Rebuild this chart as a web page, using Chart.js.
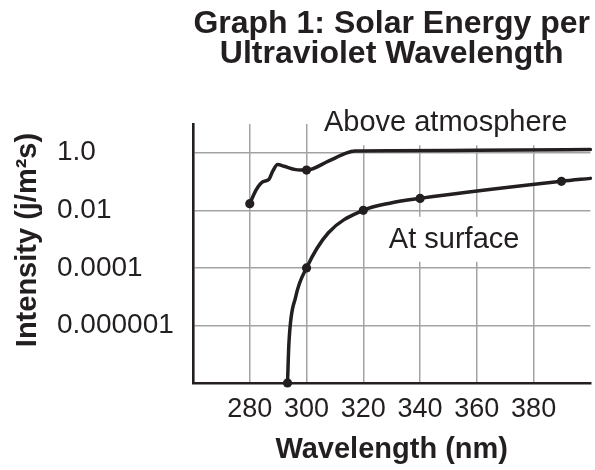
<!DOCTYPE html>
<html>
<head>
<meta charset="utf-8">
<script src="https://cdn.jsdelivr.net/npm/chart.js@4/dist/chart.umd.min.js"></script>
<style>
  html, body { margin: 0; padding: 0; background: #fff; }
  canvas { display: block; }
</style>
</head>
<body>
<canvas id="chart" width="595" height="470"></canvas>
<script>
// wavelength (nm) and intensity readings
const aboveX = [280, 282.3, 284.6, 286.7, 288.1, 289.8, 292.1, 296.2, 300, 307.7, 313.5, 317, 330, 360, 400];
const aboveY = [0.017, 0.052, 0.098, 0.117, 0.23, 0.39, 0.34, 0.26, 0.25, 0.51, 0.93, 1.15, 1.17, 1.22, 1.3];
const aboveDots = [280, 300];

const surfaceX = [293.3, 293.8, 296.2, 300, 307.7, 320, 329.7, 340, 389.8, 400];
const surfaceY = [1e-8, 2.5e-7, 1.0e-5, 1e-4, 1.66e-3, 0.01, 0.018, 0.026, 0.102, 0.129];
const surfaceDots = [293.3, 300, 320, 340, 389.8];

const xTicks = [280, 300, 320, 340, 360, 380];
const yTicks = [1e-6, 1e-4, 1e-2, 1];
const yTickLabels = ['0.000001', '0.0001', '0.01', '1.0'];

const titleLines = ['Graph 1: Solar Energy per', 'Ultraviolet Wavelength'];
const xTitle = 'Wavelength (nm)';
const yTitle = 'Intensity (j/m\u00B2s)';

const noteTexts = ['Above atmosphere', 'At surface'];
const noteX = [349, 352];
const noteY = [5.6, 5e-4];

const INK = '#231f20';
const FONT = '"Liberation Sans", Arial, Helvetica, sans-serif';

const toPoints = (xs, ys) => xs.map((x, i) => ({ x: x, y: ys[i] }));
const dotSizes = (xs, dots) => xs.map((x) => (dots.includes(x) ? 4.6 : 0));

const lineStyle = {
    borderColor: INK,
    backgroundColor: INK,
    pointBackgroundColor: INK,
    pointBorderColor: INK,
    borderWidth: 3.5,
    borderCapStyle: 'round',
    cubicInterpolationMode: 'monotone',
    pointBorderWidth: 0,
    pointHoverRadius: 0,
    clip: 6,
};

const textPlugin = {
    id: 'texts',
    beforeDatasetsDraw(chart) {
        const { ctx, scales: { x, y } } = chart;
        ctx.save();
        ctx.font = '29px ' + FONT;
        noteTexts.forEach((t, i) => {
            const px = x.getPixelForValue(noteX[i]);
            const py = y.getPixelForValue(noteY[i]);
            const w = ctx.measureText(t).width;
            ctx.fillStyle = '#fff';
            ctx.fillRect(px - w / 2 - 8, py - 31, w + 16, 45);
        });
        ctx.restore();
    },
    afterDatasetsDraw(chart) {
        const { ctx, chartArea, scales: { x, y } } = chart;
        ctx.save();
        ctx.fillStyle = INK;
        ctx.textAlign = 'center';
        ctx.textBaseline = 'alphabetic';
        ctx.font = '29px ' + FONT;
        noteTexts.forEach((t, i) => {
            ctx.fillText(t, x.getPixelForValue(noteX[i]), y.getPixelForValue(noteY[i]));
        });

        // title, centred over the plot
        ctx.font = 'bold 32px ' + FONT;
        const cx = (chartArea.left + chartArea.right) / 2;
        titleLines.forEach((t, i) => ctx.fillText(t, cx, 33 + i * 30));

        // y axis title
        ctx.font = 'bold 29px ' + FONT;
        ctx.textBaseline = 'middle';
        ctx.translate(28, 240);
        ctx.rotate(-Math.PI / 2);
        ctx.fillText(yTitle, 0, 0);
        ctx.restore();
    },
};

new Chart(document.getElementById('chart').getContext('2d'), {
    type: 'line',
    data: {
        datasets: [{
            label: 'Above atmosphere',
            data: toPoints(aboveX, aboveY),
            pointRadius: dotSizes(aboveX, aboveDots),
            ...lineStyle,
        }, {
            label: 'At surface',
            data: toPoints(surfaceX, surfaceY),
            pointRadius: dotSizes(surfaceX, surfaceDots),
            ...lineStyle,
        }],
    },
    options: {
        responsive: false,
        animation: false,
        devicePixelRatio: 1,
        layout: { padding: { top: 124, left: 57, right: 0, bottom: 0 } },
        plugins: {
            legend: { display: false },
            title: { display: false },
            tooltip: { enabled: false },
        },
        scales: {
            x: {
                type: 'linear',
                min: 260,
                max: 400,
                afterBuildTicks: (s) => { s.ticks = xTicks.map((v) => ({ value: v })); },
                afterFit: (s) => { s.height = 87; },
                grid: { color: '#a3a3a3', lineWidth: 1.5, drawTicks: false },
                border: { display: true, color: INK, width: 2.6 },
                ticks: {
                    color: INK,
                    padding: 10,
                    maxRotation: 0,
                    font: { family: FONT, size: 27 },
                },
                title: {
                    display: true,
                    text: xTitle,
                    color: INK,
                    padding: { top: 0, bottom: 3 },
                    font: { family: FONT, size: 29, weight: 'bold' },
                },
            },
            y: {
                type: 'logarithmic',
                min: 1e-8,
                max: 10,
                afterBuildTicks: (s) => { s.ticks = yTicks.map((v) => ({ value: v })); },
                afterFit: (s) => { s.width = 136; },
                grid: { color: '#a3a3a3', lineWidth: 1.5, drawTicks: false },
                border: { display: true, color: INK, width: 2.6 },
                ticks: {
                    color: INK,
                    crossAlign: 'far',
                    font: { family: FONT, size: 28 },
                    callback: (v, i) => yTickLabels[i],
                },
            },
        },
    },
    plugins: [textPlugin],
});
</script>
</body>
</html>
